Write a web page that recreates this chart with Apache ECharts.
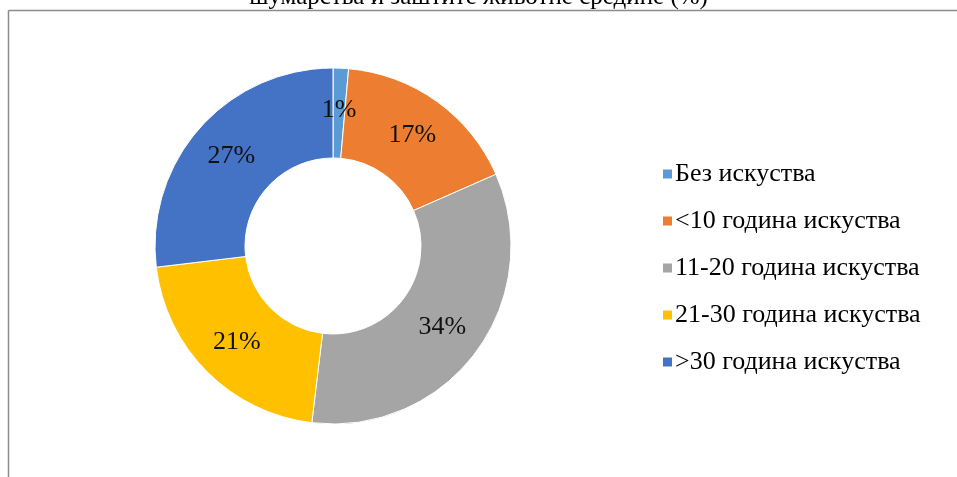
<!DOCTYPE html>
<html>
<head>
<meta charset="utf-8">
<script src="https://cdn.jsdelivr.net/npm/echarts@6/dist/echarts.min.js"></script>
<style>
  html, body { margin: 0; padding: 0; background: #fff; }
  #chart { width: 957px; height: 477px; }
</style>
</head>
<body>
<div id="chart"></div>
<script>
// categories and shares (labels are rounded)
const categories = ['Без искуства', '<10 година искуства', '11-20 година искуства', '21-30 година искуства', '>30 година искуства']
const shares = [1.4, 17.0, 33.5, 21.2, 26.9]
const colors = ['#5B9BD5', '#ED7D31', '#A5A5A5', '#FFC000', '#4472C4']

const chart = echarts.init(document.getElementById('chart'))

chart.setOption({
  backgroundColor: '#fff',
  color: colors,
  title: {
    text: 'шумарства и заштите животне средине (%)',
    left: 'center',
    top: -20,
    textStyle: { fontFamily: 'Liberation Serif', fontSize: 25, fontWeight: 'normal', color: '#000' }
  },
  graphic: [
    { type: 'line', shape: { x1: 8.5, y1: 10.5, x2: 957, y2: 10.5 }, style: { stroke: '#8c8c8c', lineWidth: 1.5 } },
    { type: 'line', shape: { x1: 8.5, y1: 10.5, x2: 8.5, y2: 477 }, style: { stroke: '#8c8c8c', lineWidth: 1.5 } }
  ],
  legend: {
    orient: 'vertical',
    left: 656,
    top: 156,
    itemWidth: 11,
    itemHeight: 11,
    itemGap: 21,
    icon: 'rect',
    textStyle: { fontFamily: 'Liberation Serif', fontSize: 26, color: '#000', padding: [0, 0, 0, -3] },
    data: categories
  },
  series: [
    {
      type: 'pie',
      center: [333, 246],
      radius: [88, 178],
      startAngle: 90,
      clockwise: true,
      avoidLabelOverlap: false,
      label: {
        position: 'inside',
        fontFamily: 'Liberation Serif',
        fontSize: 26,
        color: '#111',
        formatter: p => Math.round(p.value) + '%'
      },
      labelLine: { show: false },
      itemStyle: { borderColor: '#fff', borderWidth: 1 },
      emphasis: { disabled: true },
      data: categories.map((name, i) => ({ name, value: shares[i] }))
    }
  ]
})
</script>
</body>
</html>
